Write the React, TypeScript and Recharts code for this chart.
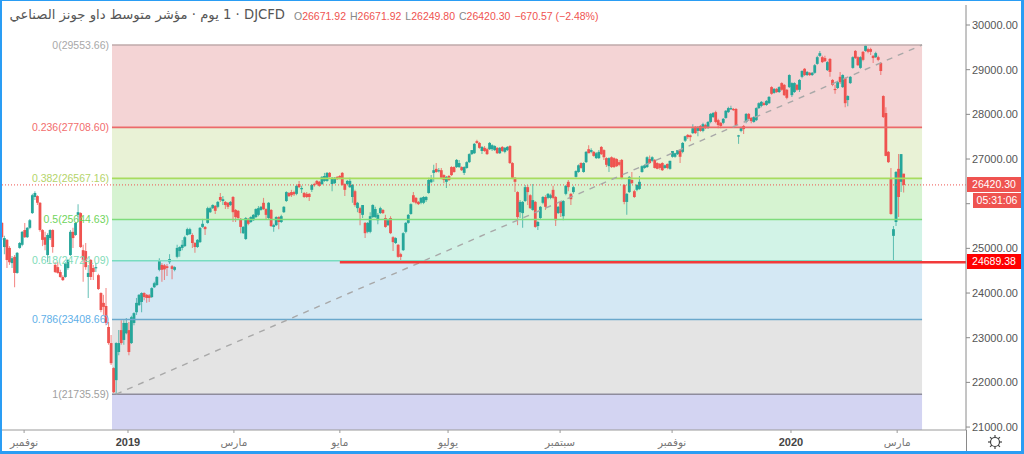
import React from 'react';
import {
  ComposedChart,
  Bar,
  XAxis,
  YAxis,
  ReferenceArea,
  ReferenceLine,
} from 'recharts';

// daily candles
const opens = [
  25570, 25030, 25190, 25010, 24670, 24810, 24450, 25010, 25080, 25410,
  25250, 25460, 25790, 26150, 26170, 26020, 25410, 25250, 24850, 25230,
  25410, 24630, 24580, 24470, 24360, 24360, 24560, 24850, 25370, 25300,
  25750, 25790, 24960, 24940, 24360, 24740, 24560, 24560, 24400, 24000,
  23780, 23710, 23240, 22880, 22320, 22050, 22680, 23170, 22950, 23100,
  23170, 22880, 23330, 23570, 23730, 23800, 24000, 23960, 23950, 23910,
  24130, 24180, 24520, 24630, 24620, 24600, 24690, 24600, 24520, 24810,
  24940, 25010, 25050, 25300, 25320, 25300, 25120, 25030, 25140, 25480,
  25480, 25570, 25810, 25900, 25950, 25930, 26150, 26060, 26040, 26020,
  25970, 26150, 25860, 25840, 25660, 25340, 25210, 25660, 25590, 25630,
  25700, 25750, 25860, 26020, 25880, 25680, 25860, 25480, 25520, 25700,
  25590, 25810, 26060, 26240, 26260, 26260, 26220, 26440, 26330, 26240,
  26220, 26220, 26310, 26440, 26510, 26490, 26440, 26510, 26510, 26690,
  26440, 26460, 26600, 26620, 26690, 26440, 26440, 26370, 26150, 26280,
  25900, 25900, 25750, 25570, 25370, 25370, 25700, 25700, 25630, 25790,
  25860, 25680, 25520, 25680, 25250, 25120, 25080, 24870, 24960, 25370,
  25570, 25770, 26190, 26130, 26040, 26020, 26020, 26080, 26240, 26480,
  26690, 26780, 26730, 26750, 26640, 26490, 26620, 26820, 26820, 26820,
  26820, 26820, 26690, 26800, 26930, 27110, 27130, 27400, 27360, 27180,
  27250, 27220, 27220, 27220, 27200, 27250, 27130, 27270, 27160, 27200,
  27290, 26910, 26580, 26260, 25810, 25790, 26060, 26370, 26190, 25860,
  26040, 25500, 25680, 26020, 26150, 26130, 26130, 26310, 26150, 25790,
  26040, 25720, 26220, 26490, 26220, 26260, 26600, 26710, 26910, 26710,
  26930, 27220, 27160, 27160, 27020, 27020, 27270, 27200, 27020, 26840,
  27040, 27020, 27000, 26930, 26980, 26420, 26040, 26260, 26530, 26280,
  26310, 26330, 26710, 26800, 26820, 27000, 26960, 26980, 26910, 26890,
  26910, 26800, 26890, 26780, 27050, 27050, 27110, 27200, 27160, 27410,
  27540, 27530, 27580, 27720, 27630, 27740, 27630, 27760, 27700, 27830,
  27940, 28050, 27870, 27810, 27810, 27920, 28050, 28120, 28120, 28120,
  27510, 27630, 27740, 27830, 28010, 27920, 27830, 27870, 28140, 28190,
  28250, 28210, 28250, 28610, 28480, 28570, 28500, 28700, 28660, 28550,
  28610, 28430, 28500, 28660, 28550, 28840, 29020, 28880, 28930, 28880,
  28930, 29130, 29310, 29280, 29260, 28990, 29240, 28770, 28570, 28590,
  28840, 28610, 28810, 28320, 28700, 29040, 29420, 29280, 29040, 29400,
  29420, 29460, 29460, 29310, 29280, 29280, 29150, 28410, 28030, 27160,
  26550, 25280, 25590, 26780, 26490, 26671.92,
];
const highs = [
  25590, 25280, 25210, 25050, 24830, 24850, 24920, 25140, 25390, 25570,
  25480, 25660, 26220, 26280, 26190, 26040, 25430, 25370, 25340, 25430,
  25430, 24690, 24690, 24520, 24400, 24690, 24760, 25410, 25460, 25590,
  25990, 25810, 25080, 25120, 24630, 24760, 24630, 24670, 24430, 24020,
  23960, 24110, 23350, 23060, 22340, 22900, 23170, 23390, 23390, 23440,
  23350, 23490, 23570, 23890, 23980, 24020, 24020, 23980, 23980, 24130,
  24250, 24380, 24780, 24670, 24650, 24650, 24870, 24630, 24600, 25080,
  25050, 25190, 25280, 25460, 25460, 25340, 25140, 25210, 25480, 25660,
  25500, 25930, 25930, 25990, 25970, 26060, 26240, 26170, 26060, 26040,
  26060, 26170, 25880, 25860, 25680, 25500, 25700, 25680, 25720, 25770,
  25900, 25950, 25950, 26130, 25900, 26040, 25880, 25550, 25720, 25720,
  25750, 25950, 26280, 26260, 26310, 26290, 26420, 26510, 26400, 26260,
  26260, 26240, 26440, 26470, 26530, 26510, 26620, 26690, 26710, 26710,
  26600, 26600, 26620, 26640, 26710, 26460, 26530, 26580, 26440, 26310,
  26040, 25930, 25970, 25590, 25590, 25810, 25990, 25930, 25790, 25930,
  25880, 25750, 25660, 25720, 25270, 25250, 25100, 24900, 25360, 25590,
  25770, 26010, 26260, 26150, 26060, 26150, 26170, 26170, 26580, 26640,
  26870, 26910, 26800, 26800, 26660, 26620, 26640, 26840, 26840, 27000,
  26980, 26840, 26840, 26950, 27130, 27200, 27360, 27430, 27380, 27290,
  27290, 27250, 27380, 27330, 27310, 27270, 27270, 27290, 27270, 27290,
  27310, 26930, 26600, 26280, 26080, 26060, 26420, 26420, 26210, 26440,
  26060, 25610, 25950, 26170, 26190, 26240, 26220, 26400, 26170, 25950,
  26060, 26080, 26420, 26530, 26240, 26400, 26750, 26880, 26930, 26930,
  27180, 27310, 27240, 27180, 27160, 27200, 27290, 27220, 27040, 27040,
  27060, 27040, 27020, 26980, 27000, 26440, 26240, 26620, 26710, 26310,
  26440, 26620, 26860, 26880, 27060, 27080, 27060, 27000, 26930, 26910,
  26930, 26880, 26900, 26960, 27180, 27140, 27200, 27220, 27380, 27520,
  27560, 27550, 27780, 27740, 27740, 27760, 27810, 27790, 27850, 28030,
  28050, 28080, 27900, 27830, 27920, 28100, 28170, 28190, 28140, 28140,
  27540, 27720, 27760, 28030, 28030, 27940, 27960, 28160, 28270, 28300,
  28280, 28320, 28410, 28630, 28590, 28590, 28630, 28720, 28680, 28570,
  28900, 28720, 28720, 28680, 28790, 28990, 29040, 28970, 28950, 28950,
  29130, 29310, 29420, 29310, 29310, 29190, 29260, 28790, 28660, 28750,
  28950, 28900, 28830, 28430, 28860, 29300, 29440, 29300, 29300, 29420,
  29553.66, 29490, 29490, 29330, 29400, 29310, 29170, 28430, 28160, 27180,
  26800, 25500, 26730, 27110, 27110, 26671.92,
];
const lows = [
  25190, 24870, 24560, 24630, 24560, 24130, 24430, 24990, 25050, 25230,
  25230, 25430, 25770, 26080, 25970, 25370, 25050, 24960, 24690, 25190,
  24900, 24450, 24430, 24340, 24270, 24340, 24520, 24830, 25010, 25280,
  25590, 25010, 24250, 24520, 23890, 24290, 24290, 24470, 24070, 23570,
  23510, 23280, 22840, 22390, 21760, 21735.59, 22610, 22840, 22840, 23080,
  22610, 22860, 23280, 23510, 23710, 23570, 23840, 23780, 23800, 23890,
  24110, 24160, 24490, 24250, 24290, 24380, 24650, 24310, 24490, 24780,
  24810, 24960, 25030, 25280, 25300, 25010, 24900, 25010, 25120, 25460,
  25300, 25550, 25790, 25880, 25770, 25900, 26040, 25970, 25880, 25880,
  25950, 25590, 25590, 25660, 25340, 25320, 25190, 25520, 25570, 25610,
  25680, 25720, 25840, 25860, 25660, 25660, 25480, 25370, 25500, 25430,
  25570, 25790, 26040, 26150, 26150, 26170, 26190, 26350, 26240, 26130,
  26130, 26060, 26260, 26380, 26420, 26380, 26420, 26490, 26490, 26580,
  26280, 26440, 26530, 26550, 26400, 26170, 26420, 26350, 26020, 25930,
  25810, 25520, 25680, 25230, 25340, 25340, 25680, 25680, 25540, 25770,
  25770, 25460, 25500, 25320, 24940, 25100, 24790, 24690, 24940, 25340,
  25550, 25750, 26020, 25990, 25970, 25990, 25990, 26040, 26220, 26460,
  26490, 26690, 26700, 26550, 26460, 26350, 26510, 26620, 26690, 26800,
  26800, 26730, 26640, 26780, 26910, 27090, 27110, 27340, 27230, 27110,
  27160, 27090, 27200, 27180, 27180, 27110, 27110, 27160, 27130, 27180,
  26890, 26550, 26260, 25520, 25680, 25460, 26040, 25970, 25880, 25840,
  25460, 25410, 25660, 25990, 25860, 26100, 26100, 26100, 25500, 25770,
  25700, 25630, 26190, 26280, 25970, 26220, 26580, 26690, 26780, 26690,
  26910, 27130, 27130, 27050, 27000, 27000, 27090, 26980, 26820, 26710,
  26800, 26800, 26820, 26840, 26550, 25990, 25750, 26240, 26440, 26130,
  26280, 26310, 26690, 26780, 26800, 26900, 26930, 26790, 26770, 26760,
  26730, 26780, 26770, 26760, 27030, 27030, 27090, 26910, 27130, 27380,
  27450, 27400, 27560, 27560, 27510, 27610, 27600, 27670, 27670, 27800,
  27920, 27800, 27690, 27690, 27780, 27900, 28030, 28100, 28080, 27740,
  27340, 27600, 27560, 27800, 27880, 27800, 27810, 27850, 28120, 28160,
  28190, 28190, 28230, 28440, 28460, 28480, 28480, 28530, 28410, 28340,
  28590, 28390, 28480, 28530, 28500, 28810, 28860, 28860, 28860, 28860,
  28910, 29110, 29290, 29150, 29170, 28970, 28840, 28630, 28460, 28570,
  28680, 28590, 28160, 28180, 28680, 29020, 29240, 29080, 29020, 29190,
  29400, 29370, 29330, 29150, 29260, 29190, 28880, 27920, 27060, 26910,
  25750, 24689.38, 25500, 25700, 26260, 26249.8,
];
const closes = [
  25250, 25230, 24740, 24690, 24780, 24450, 24900, 25120, 25370, 25250,
  25460, 25630, 26190, 26240, 26020, 25410, 25190, 25080, 25300, 25410,
  25030, 24470, 24450, 24360, 24290, 24670, 24740, 25370, 25230, 25570,
  25810, 25030, 24740, 24580, 24450, 24360, 24470, 24580, 24090, 23620,
  23690, 23330, 22880, 22430, 21780, 22880, 22880, 22880, 23330, 23330,
  22680, 23460, 23550, 23780, 23960, 24000, 23910, 23890, 23890, 24110,
  24220, 24360, 24740, 24520, 24530, 24560, 24760, 24540, 24580, 25010,
  25030, 25080, 25250, 25430, 25430, 25120, 25030, 25190, 25460, 25550,
  25430, 25900, 25900, 25970, 25840, 26040, 26080, 26100, 25970, 25930,
  26040, 25810, 25700, 25680, 25480, 25480, 25680, 25550, 25700, 25750,
  25880, 25900, 25930, 25880, 25750, 26020, 25500, 25520, 25700, 25590,
  25720, 25930, 26260, 26170, 26190, 26210, 26400, 26370, 26350, 26150,
  26150, 26150, 26420, 26420, 26440, 26400, 26600, 26620, 26690, 26600,
  26580, 26580, 26550, 26580, 26420, 26310, 26510, 26510, 26420, 25970,
  26020, 25790, 25970, 25340, 25570, 25720, 25970, 25880, 25750, 25900,
  25790, 25480, 25630, 25340, 25140, 25230, 24810, 24810, 25340, 25570,
  25750, 25990, 26040, 26020, 25990, 26130, 26150, 26150, 26530, 26550,
  26750, 26710, 26750, 26580, 26530, 26600, 26530, 26640, 26710, 26980,
  26910, 26750, 26820, 26930, 27110, 27200, 27340, 27360, 27250, 27270,
  27180, 27110, 27360, 27310, 27290, 27130, 27250, 27180, 27250, 27270,
  26910, 26580, 26490, 25700, 26040, 26040, 26370, 26260, 25900, 26080,
  25480, 25590, 25930, 26150, 25930, 26220, 26190, 26130, 25630, 25930,
  25790, 26060, 26400, 26370, 26100, 26370, 26730, 26860, 26800, 26910,
  27160, 27130, 27200, 27070, 27130, 27160, 27110, 27040, 26870, 27020,
  26820, 26820, 26840, 26870, 26580, 26040, 26220, 26600, 26460, 26150,
  26420, 26490, 26840, 26860, 27040, 26910, 27040, 26800, 26780, 26800,
  26750, 26860, 26800, 26960, 27180, 27130, 27200, 27050, 27360, 27510,
  27490, 27490, 27690, 27580, 27720, 27630, 27780, 27690, 27830, 28010,
  28030, 27830, 27760, 27740, 27900, 28080, 28140, 28140, 28100, 27760,
  27530, 27690, 27670, 28010, 27900, 27850, 27940, 28140, 28250, 28280,
  28210, 28300, 28390, 28460, 28570, 28500, 28610, 28550, 28430, 28370,
  28880, 28700, 28700, 28550, 28770, 28970, 28880, 28950, 28880, 28930,
  29100, 29280, 29370, 29170, 29190, 29170, 28950, 28660, 28550, 28720,
  28720, 28880, 28250, 28410, 28840, 29280, 29260, 29100, 29280, 29220,
  29540, 29400, 29400, 29260, 29370, 29220, 28970, 27940, 27070, 26930,
  25770, 25430, 26710, 26150, 27110, 26420.3,
];

const chartData = opens.map((open, i) => ({
  idx: i,
  open,
  high: highs[i],
  low: lows[i],
  close: closes[i],
}));

// fib levels, top to bottom
const fibRatios = ['0', '0.236', '0.382', '0.5', '0.618', '0.786', '1'];
const fibPrices = [29553.66, 27708.6, 26567.16, 25644.63, 24724.09, 23408.66, 21735.59];
const fibLineColors = ['#bfaaaa', '#ec6a6a', '#a8dc5e', '#7fdc7c', '#78dcc0', '#6aa8cc', '#8e8c9c'];
const fibTextColors = ['#a8a8a8', '#f26d6d', '#b4d46a', '#6fd45c', '#7fdcb8', '#5fb0e8', '#a0a0a0'];
const fibFills = ['#f4d4d5', '#e9f2d6', '#d6f3d1', '#d2f3e7', '#d4e8f4', '#e4e4e4', '#d3d4f2'];

const priceTicks = [21000, 22000, 23000, 24000, 25000, 26000, 27000, 28000, 29000, 30000];
const timeTicks = [8.7, 49.6, 91.3, 133, 175.6, 219.7, 263.8, 310.6, 352.4];
const timeLabels = ['نوفمبر', '2019', 'مارس', 'مايو', 'يوليو', 'سبتمبر', 'نوفمبر', '2020', 'مارس'];

const lastPrice = 26420.3;
const supportPrice = 24689.38;
const fibStart = 43.3;
const fibEnd = 362.2;
const trendStart = 44.9;
const supportStart = 133;
const xMax = 379.5;
const yMin = 20934;
const yMax = 30448;

const UP = '#26a69a';
const DOWN = '#ef5350';
const FONT = '"Liberation Sans", Arial, sans-serif';

const Candle = (props: any) => {
  const { x, y, width, height, payload } = props;
  const cx = x + width / 2;
  const perUnit = height / (payload.high - payload.low);
  const top = y + (payload.high - Math.max(payload.open, payload.close)) * perUnit;
  const bottom = y + (payload.high - Math.min(payload.open, payload.close)) * perUnit;
  const color = payload.close >= payload.open ? UP : DOWN;
  return (
    <g>
      <line x1={cx} x2={cx} y1={y} y2={y + height} stroke={color} strokeWidth={1.1} strokeOpacity={0.65} />
      <rect x={cx - 1.4} y={top} width={2.8} height={Math.max(bottom - top, 1.2)} fill={color} />
    </g>
  );
};

const TimeTick = (props: any) => {
  const { x, y, index } = props;
  const label = timeLabels[index];
  const isYear = label === '2019' || label === '2020';
  return (
    <text
      x={x}
      y={y + 11}
      textAnchor="middle"
      fontFamily={isYear ? FONT : '"DejaVu Sans", sans-serif'}
      fontSize={isYear ? 11 : 10.5}
      fontWeight={isYear ? 700 : 400}
      fill={isYear ? '#444' : '#777'}
    >
      {label}
    </text>
  );
};

const Tag = ({ top, left, bg, text }: { top: number; left: number; bg: string; text: string }) => (
  <div
    style={{
      position: 'absolute',
      top,
      left,
      width: 1021 - left,
      height: 15,
      lineHeight: '15px',
      background: bg,
      color: '#fff',
      fontFamily: FONT,
      fontSize: 10.5,
      textAlign: 'center',
    }}
  >
    {text}
  </div>
);

const Ohlc = ({ name, value }: { name: string; value: string }) => (
  <span style={{ marginRight: 4 }}>
    <span style={{ color: '#888' }}>{name}</span>
    {value}
  </span>
);

export default function App() {
  return (
    <div style={{ position: 'absolute', left: 0, top: 0, width: 1024, height: 454, background: '#fff', overflow: 'hidden' }}>
      <ComposedChart
        width={1024}
        height={454}
        data={chartData}
        margin={{ top: 5, right: 0, bottom: 0, left: 2 }}
      >
        <XAxis
          dataKey="idx"
          type="number"
          domain={[0, xMax]}
          ticks={timeTicks}
          height={24}
          interval={0}
          stroke="#9a9a9a"
          tickSize={3}
          tick={<TimeTick />}
        />
        <YAxis
          orientation="right"
          domain={[yMin, yMax]}
          ticks={priceTicks}
          width={58}
          interval={0}
          stroke="#8a8a8a"
          tickSize={4}
          tick={{ fill: '#555', fontSize: 11, fontFamily: FONT }}
          tickFormatter={(v: number) => (v === 26000 ? '' : v.toFixed(2))}
        />
        {fibFills.map((fill, i) => (
          <ReferenceArea
            key={fill}
            x1={fibStart}
            x2={fibEnd}
            y1={i < fibPrices.length - 1 ? fibPrices[i + 1] : yMin}
            y2={fibPrices[i]}
            fill={fill}
            fillOpacity={1}
            stroke="none"
          />
        ))}
        {fibPrices.map((price, i) => (
          <ReferenceLine
            key={price}
            segment={[
              { x: fibStart, y: price },
              { x: fibEnd, y: price },
            ]}
            stroke={fibLineColors[i]}
            strokeWidth={1.6}
            label={{
              value: `${fibRatios[i]}(${price.toFixed(2)})`,
              position: 'left',
              offset: 3,
              fill: fibTextColors[i],
              fontSize: 10.5,
              fontFamily: FONT,
            }}
          />
        ))}
        <ReferenceLine
          segment={[
            { x: trendStart, y: fibPrices[6] },
            { x: fibEnd, y: fibPrices[0] },
          ]}
          stroke="#a8a8a8"
          strokeWidth={1.4}
          strokeDasharray="6 6"
        />
        <ReferenceLine y={lastPrice} stroke={DOWN} strokeWidth={1} strokeDasharray="1 2" />
        <Bar
          dataKey={(d: any) => [d.low, d.high]}
          barSize={3}
          shape={<Candle />}
          isAnimationActive={false}
        />
        <ReferenceLine
          segment={[
            { x: supportStart, y: supportPrice },
            { x: xMax, y: supportPrice },
          ]}
          stroke="#f23a3a"
          strokeWidth={2.4}
        />
      </ComposedChart>

      <div
        dir="rtl"
        style={{
          position: 'absolute',
          left: 0,
          top: 7,
          width: 285,
          whiteSpace: 'nowrap',
          fontFamily: '"DejaVu Sans", sans-serif',
          fontSize: 13.2,
          color: '#555',
        }}
      >
        {'DJCFD\u200F · \u200F1 يوم · مؤشر متوسط داو جونز الصناعي'}
      </div>
      <div
        style={{
          position: 'absolute',
          left: 294,
          top: 10,
          whiteSpace: 'nowrap',
          fontFamily: FONT,
          fontSize: 10.5,
          color: DOWN,
        }}
      >
        <Ohlc name="O" value="26671.92" />
        <Ohlc name="H" value="26671.92" />
        <Ohlc name="L" value="26249.80" />
        <Ohlc name="C" value="26420.30" />
        <span>−670.57 (−2.48%)</span>
      </div>

      <Tag top={177} left={967} bg={DOWN} text="26420.30" />
      <Tag top={193} left={973} bg={DOWN} text="05:31:06" />
      <Tag top={254} left={967} bg="#ff0000" text="24689.38" />

      <svg style={{ position: 'absolute', left: 966, top: 430 }} width={55} height={22}>
        <line x1={0.5} x2={0.5} y1={0} y2={22} stroke="#8a8a8a" />
        <g stroke="#444" fill="none" transform="translate(29 12)">
          <circle r={4.5} strokeWidth={1.2} />
          {[0, 45, 90, 135, 180, 225, 270, 315].map((deg) => (
            <line key={deg} x1={0} x2={0} y1={-4.5} y2={-7} strokeWidth={1.2} transform={`rotate(${deg})`} />
          ))}
        </g>
      </svg>

      <div
        style={{
          position: 'absolute',
          inset: 0,
          boxSizing: 'border-box',
          borderStyle: 'solid',
          borderColor: '#2a9df4',
          borderWidth: '1px 3px 3px 2px',
          pointerEvents: 'none',
        }}
      />
    </div>
  );
}
